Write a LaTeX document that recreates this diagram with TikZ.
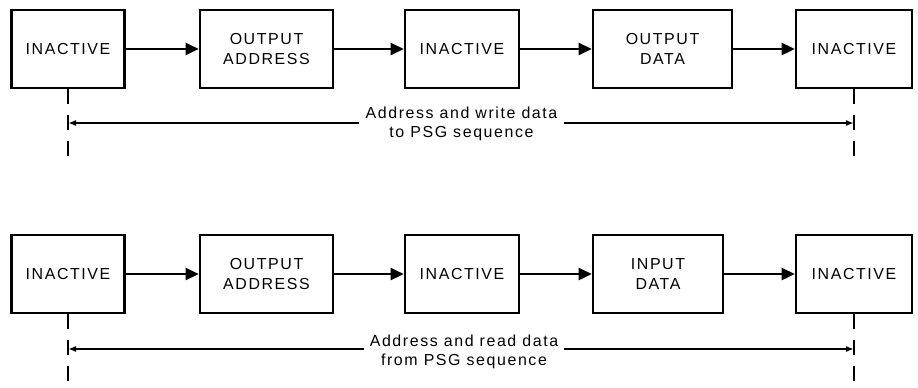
\documentclass[tikz,border=0pt]{standalone}
\usepackage{fontspec}
\setmainfont{Liberation Sans}[LetterSpace=10]
\usetikzlibrary{positioning,arrows.meta}

\begin{document}
\begin{tikzpicture}[x=1bp, y=1bp,
    phase/.style = {rectangle, draw, line width=2.6bp, minimum height=78bp, align=center, inner sep=0pt, font=\fontsize{16}{20}\selectfont},
    flow/.style = {-{Triangle[length=13bp,width=12bp]}, line width=2.6bp},
    span/.style = {-{Latex[length=8bp,width=6bp]}, line width=1.6bp},
    guide/.style = {line width=2bp, dash pattern=on 15bp off 11bp},
    note/.style = {align=center, inner sep=6bp, font=\fontsize{16}{19}\selectfont}]
  \useasboundingbox (0,0) rectangle (918,387);

  % write sequence
  \node[phase, minimum width=113bp] (w0) at (68, 338) {INACTIVE};
  \node[phase, minimum width=133bp] (w1) at (266.5, 338) {OUTPUT\\ADDRESS};
  \node[phase, minimum width=114bp] (w2) at (462, 338) {INACTIVE};
  \node[phase, minimum width=139bp] (w3) at (662.5, 338) {OUTPUT\\DATA};
  \node[phase, minimum width=116bp] (w4) at (854, 338) {INACTIVE};

  \draw[flow] (w0) -- (w1);
  \draw[flow] (w1) -- (w2);
  \draw[flow] (w2) -- (w3);
  \draw[flow] (w3) -- (w4);

  \coordinate (wa) at (68, 229);
  \coordinate (wb) at (854, 229);
  \draw[guide] (w0.south) -- (wa);
  \draw[guide] (w4.south) -- (wb);

  \coordinate (wl) at (68, 264);
  \coordinate (wr) at (854, 264);
  \node[note] (wt) at (461.5, 263) {Address and write data\\to PSG sequence};
  \draw[span] (wt.west |- wl) -- (wl);
  \draw[span] (wt.east |- wr) -- (wr);

  % read sequence
  \node[phase, minimum width=113bp] (r0) at (68, 113) {INACTIVE};
  \node[phase, minimum width=133bp] (r1) at (266.5, 113) {OUTPUT\\ADDRESS};
  \node[phase, minimum width=114bp] (r2) at (462, 113) {INACTIVE};
  \node[phase, minimum width=130bp] (r3) at (658, 113) {INPUT\\DATA};
  \node[phase, minimum width=116bp] (r4) at (854, 113) {INACTIVE};

  \draw[flow] (r0) -- (r1);
  \draw[flow] (r1) -- (r2);
  \draw[flow] (r2) -- (r3);
  \draw[flow] (r3) -- (r4);

  \coordinate (ra) at (68, 2);
  \coordinate (rb) at (854, 2);
  \draw[guide] (r0.south) -- (ra);
  \draw[guide] (r4.south) -- (rb);

  \coordinate (rl) at (68, 38);
  \coordinate (rr) at (854, 38);
  \node[note] (rt) at (464, 35) {Address and read data\\from PSG sequence};
  \draw[span] (rt.west |- rl) -- (rl);
  \draw[span] (rt.east |- rr) -- (rr);
\end{tikzpicture}
\end{document}
